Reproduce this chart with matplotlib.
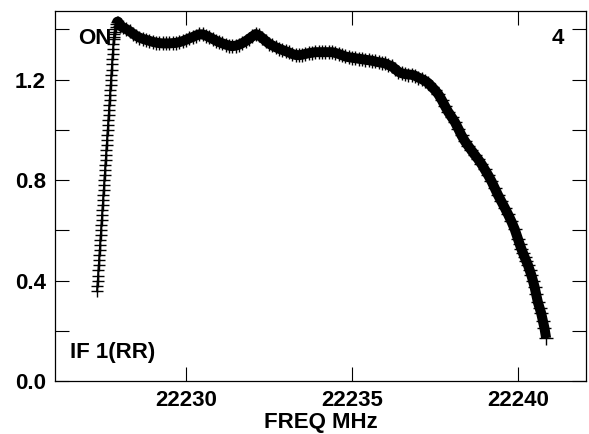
import matplotlib
matplotlib.use("Agg")
import matplotlib.pyplot as plt
from matplotlib.ticker import MultipleLocator

plt.rcParams['font.family'] = ['Liberation Sans', 'DejaVu Sans']
plt.rcParams['font.weight'] = 'bold'

# channel frequencies (MHz) and amplitudes
# steep rising edge of the band
rise_freq = [22227.32, 22227.33, 22227.34, 22227.35, 22227.36, 22227.37, 22227.38, 22227.39,
             22227.40, 22227.41, 22227.42, 22227.43, 22227.44, 22227.45, 22227.46, 22227.47,
             22227.48, 22227.49, 22227.50, 22227.51, 22227.52, 22227.53, 22227.54, 22227.55,
             22227.56, 22227.57, 22227.58, 22227.59, 22227.60, 22227.61, 22227.62, 22227.63,
             22227.64, 22227.65, 22227.66, 22227.67, 22227.68, 22227.69, 22227.70, 22227.71,
             22227.72, 22227.73, 22227.74, 22227.75, 22227.76, 22227.77, 22227.78, 22227.79,
             22227.80, 22227.81, 22227.82, 22227.83, 22227.84, 22227.85, 22227.86, 22227.88,
             22227.90, 22227.93, 22227.96]
rise_amp = [0.36, 0.38, 0.40, 0.42, 0.44, 0.46, 0.48, 0.50,
            0.52, 0.54, 0.56, 0.58, 0.60, 0.62, 0.64, 0.66,
            0.68, 0.70, 0.72, 0.74, 0.76, 0.78, 0.80, 0.82,
            0.84, 0.86, 0.88, 0.90, 0.92, 0.94, 0.96, 0.98,
            1.00, 1.02, 1.04, 1.06, 1.08, 1.10, 1.12, 1.14,
            1.16, 1.18, 1.20, 1.22, 1.24, 1.26, 1.28, 1.30,
            1.32, 1.34, 1.36, 1.37, 1.38, 1.39, 1.40, 1.41,
            1.42, 1.43, 1.43]

# rest of the passband
band_freq = [22228.0, 22228.1, 22228.2, 22228.3, 22228.4, 22228.5, 22228.6, 22228.7, 22228.8, 22228.9,
             22229.0, 22229.1, 22229.2, 22229.3, 22229.4, 22229.5, 22229.6, 22229.7, 22229.8, 22229.9,
             22230.0, 22230.1, 22230.2, 22230.3, 22230.4, 22230.5, 22230.6, 22230.7, 22230.8, 22230.9,
             22231.0, 22231.1, 22231.2, 22231.3, 22231.4, 22231.5, 22231.6, 22231.7, 22231.8, 22231.9,
             22232.0, 22232.1, 22232.2, 22232.3, 22232.4, 22232.5, 22232.6, 22232.7, 22232.8, 22232.9,
             22233.0, 22233.1, 22233.2, 22233.3, 22233.4, 22233.5, 22233.6, 22233.7, 22233.8, 22233.9,
             22234.0, 22234.1, 22234.2, 22234.3, 22234.4, 22234.5, 22234.6, 22234.7, 22234.8, 22234.9,
             22235.0, 22235.1, 22235.2, 22235.3, 22235.4, 22235.5, 22235.6, 22235.7, 22235.8, 22235.9,
             22236.0, 22236.1, 22236.2, 22236.3, 22236.4, 22236.5, 22236.6, 22236.7, 22236.8, 22236.9,
             22237.0, 22237.1, 22237.2, 22237.3, 22237.4, 22237.5, 22237.6, 22237.7, 22237.8, 22237.9,
             22238.0, 22238.1, 22238.2, 22238.3, 22238.4, 22238.5, 22238.6, 22238.7, 22238.8, 22238.9,
             22239.0, 22239.1, 22239.2, 22239.3, 22239.4, 22239.5, 22239.6, 22239.7, 22239.8, 22239.9,
             22240.0, 22240.05, 22240.1, 22240.15, 22240.2, 22240.25, 22240.3, 22240.35, 22240.4,
             22240.45, 22240.5, 22240.55, 22240.6, 22240.65, 22240.7, 22240.75, 22240.8, 22240.85]
band_amp = [1.415, 1.408, 1.401, 1.393, 1.383, 1.374, 1.367, 1.362, 1.358, 1.354,
            1.350, 1.347, 1.345, 1.344, 1.344, 1.344, 1.345, 1.346, 1.349, 1.353,
            1.358, 1.364, 1.369, 1.375, 1.380, 1.380, 1.375, 1.369, 1.362, 1.355,
            1.349, 1.344, 1.339, 1.335, 1.333, 1.335, 1.339, 1.345, 1.353, 1.362,
            1.372, 1.381, 1.376, 1.365, 1.354, 1.343, 1.336, 1.329, 1.323, 1.318,
            1.313, 1.308, 1.302, 1.298, 1.297, 1.299, 1.302, 1.305, 1.307, 1.309,
            1.309, 1.309, 1.309, 1.309, 1.309, 1.306, 1.302, 1.297, 1.292, 1.289,
            1.287, 1.285, 1.283, 1.281, 1.279, 1.277, 1.275, 1.272, 1.269, 1.267,
            1.264, 1.258, 1.253, 1.242, 1.231, 1.225, 1.222, 1.220, 1.219, 1.215,
            1.208, 1.202, 1.195, 1.186, 1.172, 1.158, 1.142, 1.120, 1.095, 1.071,
            1.051, 1.031, 1.005, 0.978, 0.955, 0.936, 0.918, 0.900, 0.883, 0.864,
            0.842, 0.820, 0.796, 0.768, 0.740, 0.715, 0.690, 0.664, 0.636, 0.605,
            0.565, 0.546, 0.527, 0.510, 0.493, 0.478, 0.462, 0.443, 0.423,
            0.400, 0.375, 0.345, 0.314, 0.292, 0.270, 0.240, 0.210, 0.170]

x_ticks = [22230, 22235, 22240]
y_ticks = [0.0, 0.4, 0.8, 1.2]

fig = plt.figure(figsize=(5.89, 4.34), dpi=100)
ax = fig.add_axes([0.0942, 0.1221, 0.9007, 0.8526])

fs = 16

# labels drawn under the data, like the original plot
ax.text(0.042, 0.925, "ON", transform=ax.transAxes, fontsize=fs, fontweight='bold',
        ha='left', va='center', zorder=1)
ax.text(0.958, 0.925, "4", transform=ax.transAxes, fontsize=fs, fontweight='bold',
        ha='right', va='center', zorder=1)
ax.text(0.027, 0.076, "IF 1(RR)", transform=ax.transAxes, fontsize=fs, fontweight='bold',
        ha='left', va='center', zorder=1)

# rising edge: thin line with plus markers
ax.plot(rise_freq + band_freq[:1], rise_amp + band_amp[:1], color='black', lw=1.2, zorder=3)
ax.plot(rise_freq, rise_amp, ls='none', marker='+', ms=8.6, mew=1.0, color='black', zorder=3)
# dense passband: thick band of plus markers
ax.plot(rise_freq[-3:] + band_freq, rise_amp[-3:] + band_amp, color='black', lw=7.2,
        solid_capstyle='butt', zorder=3)
ax.plot(band_freq, band_amp, ls='none', marker='+', ms=9.5, mew=1.0, color='black', zorder=3)

ax.set_xlim(22226.07, 22242.05)
ax.set_ylim(0.0, 1.473)
ax.set_xticks(x_ticks)
ax.set_xticklabels([str(t) for t in x_ticks])
ax.set_yticks(y_ticks)
ax.set_yticklabels([f"{t:.1f}" for t in y_ticks])
ax.yaxis.set_minor_locator(MultipleLocator(0.2))

ax.tick_params(which='both', direction='in', length=10, width=0.8, top=True, right=True,
               labelsize=fs, color='black')
ax.tick_params(axis='x', pad=6.5)
ax.tick_params(axis='y', pad=7)
for lab in ax.get_xticklabels() + ax.get_yticklabels():
    lab.set_fontweight('bold')
for sp in ax.spines.values():
    sp.set_linewidth(0.9)

ax.set_xlabel("FREQ MHz", fontsize=fs, fontweight='bold', labelpad=0.5)

fig.savefig("out.png", dpi=100)
